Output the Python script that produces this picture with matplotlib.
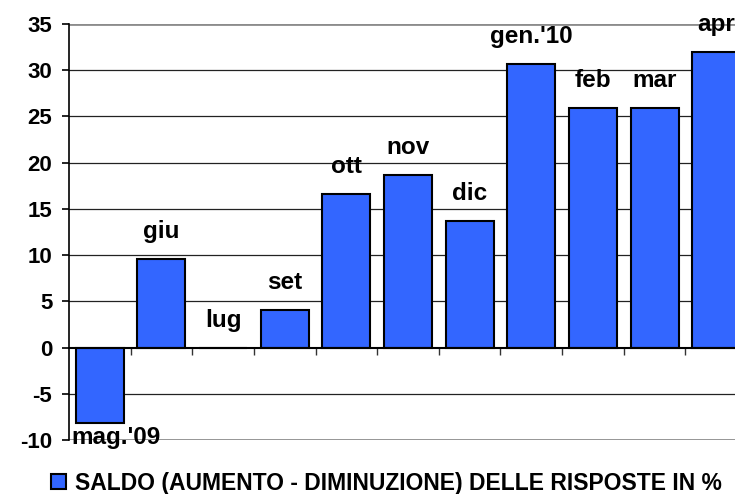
import matplotlib
matplotlib.use("Agg")
import matplotlib.pyplot as plt
import numpy as np

# data
months = ["mag.'09", "giu", "lug", "set", "ott", "nov", "dic",
          "gen.'10", "feb", "mar", "apr"]
saldo = [-8.2, 9.6, 0.0, 4.1, 16.6, 18.7, 13.7, 30.7, 25.9, 25.9, 32.0]
yticks = [-10, -5, 0, 5, 10, 15, 20, 25, 30, 35]
legend_label = "SALDO (AUMENTO - DIMINUZIONE) DELLE RISPOSTE IN %"

plt.rcParams['font.family'] = ['Liberation Sans', 'DejaVu Sans']
plt.rcParams['font.weight'] = 'bold'

fig = plt.figure(figsize=(7.35, 4.94), dpi=100)
# plot area runs past the right edge of the picture, like the cropped original
ax = fig.add_axes([69 / 735, 1 - 440 / 494, 678 / 735, 416 / 494])

x = np.arange(len(months))
ax.bar(x, saldo, width=0.78, color="#3366FF", edgecolor="black",
       linewidth=1.5, zorder=3, label=legend_label)

ax.set_xlim(-0.5, len(months) - 0.5)
ax.set_ylim(-10, 35)

# gridlines
for v in yticks[1:-1]:
    if v != 0:
        ax.axhline(v, color="#222222", linewidth=0.9, zorder=1)
ax.axhline(35, color="#8c8c8c", linewidth=2, zorder=2)
ax.axhline(-10, color="#8c8c8c", linewidth=2, zorder=2)

ax.spines["top"].set_visible(False)
ax.spines["right"].set_visible(False)
ax.spines["left"].set_color("black")
ax.spines["left"].set_linewidth(1.2)
ax.spines["left"].set_zorder(4)

# category axis drawn at zero, ticks between the bars
ax.spines["bottom"].set_position(("data", 0))
ax.spines["bottom"].set_color("black")
ax.spines["bottom"].set_linewidth(1.5)
ax.spines["bottom"].set_zorder(4)
ax.set_xticks(x[:-1] + 0.5)
ax.set_xticklabels([])
ax.tick_params(axis="x", direction="out", length=5, width=1.0, color="#333333")

ax.set_yticks(yticks)
ax.set_yticklabels([str(v) for v in yticks])
ax.tick_params(axis="y", direction="out", length=5, width=1.2,
               labelsize=16, pad=7, color="black")

# month names as data labels
labels = []
for i, (m, v) in enumerate(zip(months, saldo)):
    if v < 0:
        t = ax.annotate(m, (-0.5, v), xytext=(2, -15), textcoords="offset points",
                        ha="left", va="baseline", fontsize=17.5,
                        fontweight="bold", zorder=5)
    else:
        t = ax.annotate(m, (i, v), xytext=(0, 15), textcoords="offset points",
                        ha="center", va="baseline", fontsize=17.5,
                        fontweight="bold", zorder=5, annotation_clip=False)
    labels.append(t)

# keep labels inside the picture (like excel does)
fig.canvas.draw()
renderer = fig.canvas.get_renderer()
for t in labels:
    bb = t.get_window_extent(renderer)
    over = bb.y1 - (fig.bbox.height - 2)
    if over > 0:
        ox, oy = t.xyann
        t.xyann = (ox, oy - over * 72 / fig.dpi)

fig.legend(loc="center left", bbox_to_anchor=(51 / 735, 1 - 483 / 494),
           frameon=False, borderpad=0, borderaxespad=0,
           handlelength=0.64, handleheight=0.64, handletextpad=0.42,
           prop={"weight": "bold", "size": 16.5})

fig.savefig("out.png", dpi=100)
